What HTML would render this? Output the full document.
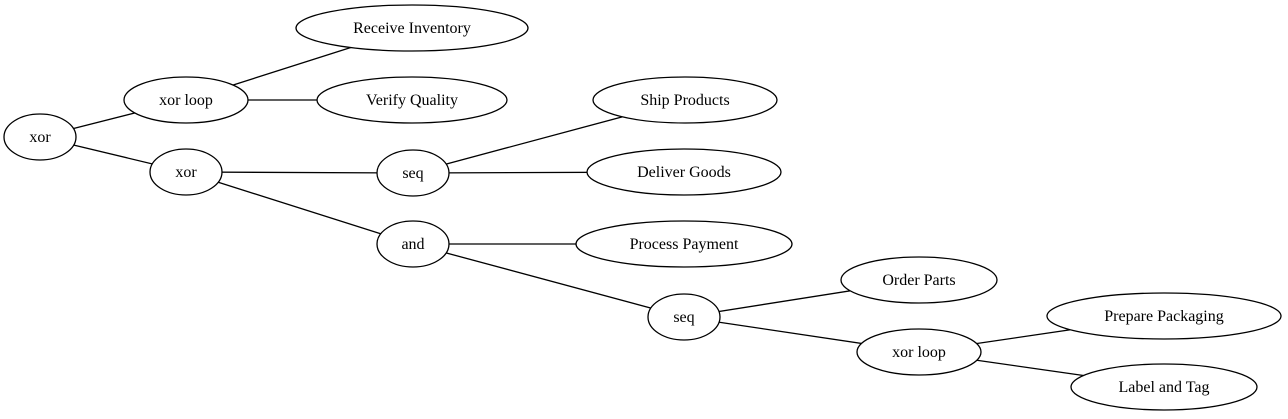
<!DOCTYPE html>
<html><head><meta charset="utf-8"><style>
html,body{margin:0;padding:0;background:#fff;}
svg{display:block;}
text{font-family:"Liberation Serif",serif;font-size:16px;fill:#000;}
</style></head><body>
<svg width="1288" height="419" viewBox="0 0 1288 419" xmlns="http://www.w3.org/2000/svg">
<g stroke="#000" stroke-width="1.3">
<line x1="40" y1="137" x2="186" y2="100"/>
<line x1="40" y1="137" x2="186" y2="172"/>
<line x1="186" y1="100" x2="412" y2="28"/>
<line x1="186" y1="100" x2="412" y2="100"/>
<line x1="186" y1="172" x2="413" y2="173"/>
<line x1="186" y1="172" x2="413" y2="244"/>
<line x1="413" y1="173" x2="685" y2="100"/>
<line x1="413" y1="173" x2="684" y2="172"/>
<line x1="413" y1="244" x2="684" y2="244"/>
<line x1="413" y1="244" x2="684" y2="317"/>
<line x1="684" y1="317" x2="919" y2="280"/>
<line x1="684" y1="317" x2="919" y2="352"/>
<line x1="919" y1="352" x2="1164" y2="316"/>
<line x1="919" y1="352" x2="1164" y2="387"/>
</g>
<g fill="#fff" stroke="#000" stroke-width="1.3">
<ellipse cx="40" cy="137" rx="36" ry="23"/>
<ellipse cx="186" cy="100" rx="62" ry="23"/>
<ellipse cx="412" cy="28" rx="116" ry="23"/>
<ellipse cx="412" cy="100" rx="95" ry="23"/>
<ellipse cx="186" cy="172" rx="36" ry="23"/>
<ellipse cx="413" cy="173" rx="36" ry="23"/>
<ellipse cx="685" cy="100" rx="92" ry="23"/>
<ellipse cx="684" cy="172" rx="97" ry="23"/>
<ellipse cx="413" cy="244" rx="36" ry="23"/>
<ellipse cx="684" cy="244" rx="108" ry="23"/>
<ellipse cx="684" cy="317" rx="36" ry="23"/>
<ellipse cx="919" cy="280" rx="78" ry="23"/>
<ellipse cx="919" cy="352" rx="62" ry="23"/>
<ellipse cx="1164" cy="316" rx="117" ry="23"/>
<ellipse cx="1164" cy="387" rx="93" ry="23"/>
</g>
<g text-anchor="middle">
<text x="40" y="142">xor</text>
<text x="186" y="105">xor loop</text>
<text x="412" y="33">Receive Inventory</text>
<text x="412" y="105">Verify Quality</text>
<text x="186" y="177">xor</text>
<text x="413" y="178">seq</text>
<text x="685" y="105">Ship Products</text>
<text x="684" y="177">Deliver Goods</text>
<text x="413" y="249">and</text>
<text x="684" y="249">Process Payment</text>
<text x="684" y="322">seq</text>
<text x="919" y="285">Order Parts</text>
<text x="919" y="357">xor loop</text>
<text x="1164" y="321">Prepare Packaging</text>
<text x="1164" y="392">Label and Tag</text>
</g>
</svg>
</body></html>
